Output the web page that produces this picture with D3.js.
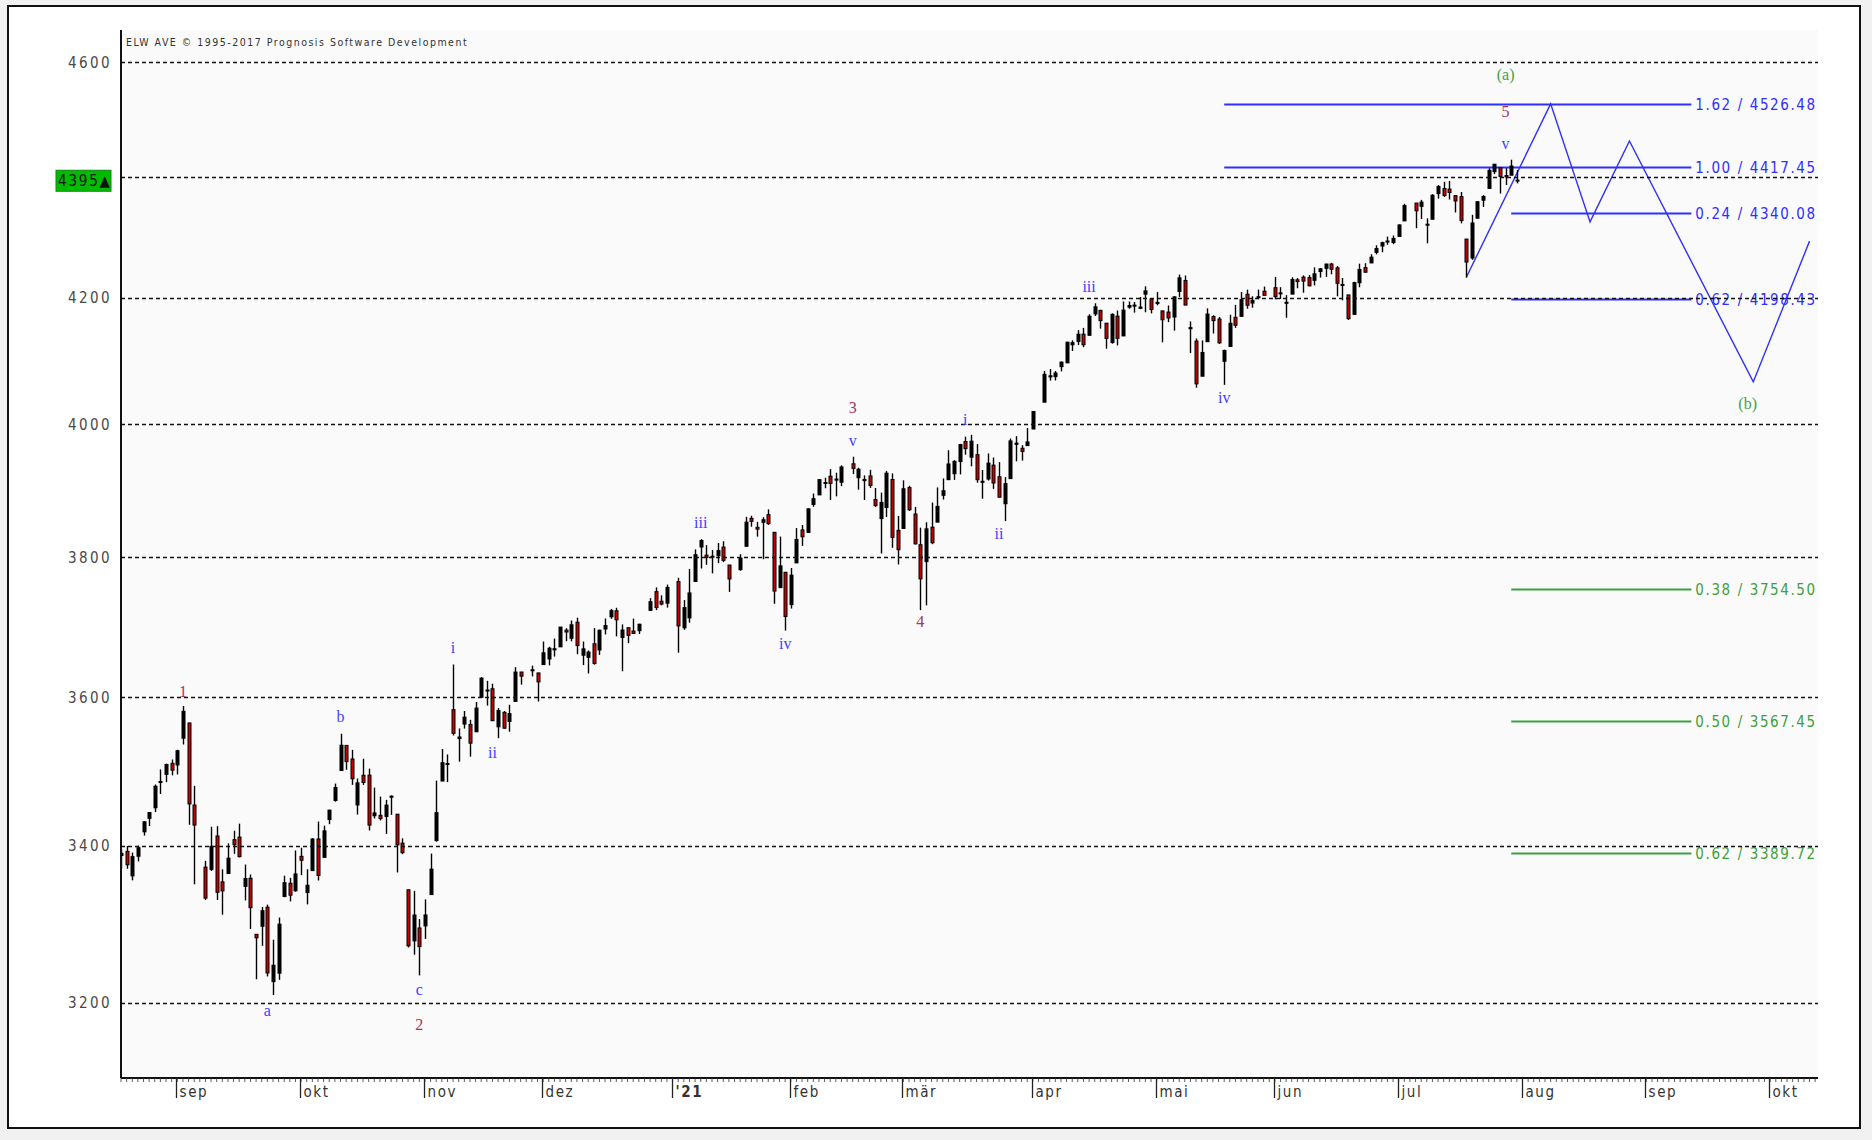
<!DOCTYPE html>
<html>
<head>
<meta charset="utf-8">
<script src="https://cdn.jsdelivr.net/npm/d3@7"></script>
<style>
body { margin: 0; background: #f1f1f1; }
#chart { font-family: "Liberation Sans Narrow", "DejaVu Sans Condensed", "Liberation Sans", sans-serif; }
</style>
</head>
<body>
<svg id="chart" width="1872" height="1140"></svg>
<script>
// daily bars: date, open, high, low, close
const bars = [
  ["2020-08-18",3387.0,3395.1,3370.2,3389.8],["2020-08-19",3392.5,3399.5,3369.7,3374.9],["2020-08-20",3360.5,3390.8,3354.7,3385.5],
  ["2020-08-21",3386.0,3400.0,3379.3,3397.2],["2020-08-24",3418.1,3432.1,3413.1,3431.3],["2020-08-25",3435.9,3444.2,3425.8,3443.6],
  ["2020-08-26",3450.0,3481.1,3444.2,3478.7],["2020-08-27",3485.1,3501.4,3468.4,3484.6],["2020-08-28",3494.7,3509.2,3484.3,3508.0],
  ["2020-08-31",3509.7,3514.8,3493.3,3500.3],
  ["2020-09-01",3507.4,3528.0,3494.6,3526.7],["2020-09-02",3543.8,3588.1,3535.2,3580.8],["2020-09-03",3564.7,3564.9,3427.4,3455.1],
  ["2020-09-04",3453.6,3479.2,3349.6,3427.0],["2020-09-08",3371.9,3380.0,3329.3,3331.8],["2020-09-09",3369.0,3424.8,3366.8,3399.0],
  ["2020-09-10",3412.6,3425.6,3329.3,3339.2],["2020-09-11",3352.7,3369.0,3310.5,3341.0],["2020-09-14",3363.6,3402.9,3363.6,3383.5],
  ["2020-09-15",3407.7,3419.5,3389.2,3401.2],["2020-09-16",3411.2,3428.9,3384.5,3385.5],["2020-09-17",3346.9,3375.2,3328.8,3357.0],
  ["2020-09-18",3357.4,3362.3,3292.4,3319.5],["2020-09-21",3285.6,3285.6,3229.1,3281.1],["2020-09-22",3295.8,3320.3,3271.0,3315.6],
  ["2020-09-23",3320.1,3323.4,3232.6,3236.9],["2020-09-24",3226.1,3278.7,3209.5,3246.6],["2020-09-25",3236.7,3306.9,3228.4,3298.5],
  ["2020-09-28",3333.9,3360.7,3332.9,3351.6],["2020-09-29",3350.9,3357.9,3327.5,3335.5],["2020-09-30",3341.2,3393.6,3340.0,3363.0],
  ["2020-10-01",3385.9,3397.2,3361.4,3380.8],["2020-10-02",3338.9,3369.1,3323.7,3348.4],["2020-10-05",3367.3,3409.6,3367.3,3408.6],
  ["2020-10-06",3408.7,3431.6,3354.5,3361.0],["2020-10-07",3384.6,3426.3,3384.6,3419.4],["2020-10-08",3434.3,3447.3,3428.2,3446.8],
  ["2020-10-09",3459.7,3482.3,3458.1,3477.1],["2020-10-12",3500.0,3549.9,3499.6,3534.2],["2020-10-13",3534.0,3534.0,3500.9,3511.9],
  ["2020-10-14",3515.5,3527.9,3480.6,3488.7],["2020-10-15",3453.7,3489.1,3440.9,3483.3],["2020-10-16",3493.5,3515.8,3480.5,3483.8],
  ["2020-10-19",3493.7,3502.4,3419.9,3426.9],["2020-10-20",3439.4,3476.9,3435.7,3443.1],["2020-10-21",3439.9,3464.9,3433.1,3435.6],
  ["2020-10-22",3438.5,3460.5,3415.3,3453.5],["2020-10-23",3464.9,3466.5,3440.5,3465.4],["2020-10-26",3441.4,3441.4,3364.9,3401.0],
  ["2020-10-27",3403.2,3409.5,3388.7,3390.7],["2020-10-28",3342.5,3342.5,3268.9,3271.0],["2020-10-29",3277.2,3341.1,3259.8,3310.1],
  ["2020-10-30",3293.6,3304.9,3233.9,3270.0],
  ["2020-11-02",3296.2,3330.1,3279.7,3310.2],["2020-11-03",3336.3,3389.5,3336.3,3369.2],["2020-11-04",3406.5,3486.3,3405.2,3443.4],
  ["2020-11-05",3485.7,3529.1,3485.7,3510.5],["2020-11-06",3508.3,3521.6,3484.3,3509.4],["2020-11-09",3583.0,3646.0,3547.5,3550.5],
  ["2020-11-10",3543.3,3557.2,3511.9,3545.5],["2020-11-11",3563.2,3581.2,3557.0,3572.7],["2020-11-12",3562.7,3569.0,3518.6,3537.0],
  ["2020-11-13",3552.6,3593.7,3552.6,3585.2],["2020-11-16",3600.2,3628.5,3600.2,3626.9],["2020-11-17",3610.3,3623.1,3588.7,3609.5],
  ["2020-11-18",3612.1,3619.1,3567.3,3567.8],["2020-11-19",3559.4,3585.2,3543.8,3581.9],["2020-11-20",3579.3,3581.2,3556.9,3557.5],
  ["2020-11-23",3566.8,3589.8,3552.8,3577.6],["2020-11-24",3594.5,3642.3,3594.5,3635.4],["2020-11-25",3635.5,3635.5,3617.8,3629.7],
  ["2020-11-27",3638.6,3644.3,3629.3,3638.4],["2020-11-30",3634.2,3634.2,3594.4,3621.6],
  ["2020-12-01",3645.9,3678.5,3645.9,3662.5],["2020-12-02",3653.8,3671.0,3644.8,3669.0],["2020-12-03",3668.3,3682.7,3657.2,3666.7],
  ["2020-12-04",3670.9,3699.2,3670.9,3699.1],["2020-12-07",3694.7,3697.4,3678.9,3692.0],["2020-12-08",3683.1,3708.5,3678.8,3702.3],
  ["2020-12-09",3706.0,3712.4,3660.5,3672.8],["2020-12-10",3659.1,3678.5,3645.2,3668.1],["2020-12-11",3656.1,3665.9,3633.4,3663.5],
  ["2020-12-14",3675.3,3697.6,3645.8,3647.5],["2020-12-15",3666.4,3695.3,3659.6,3694.6],["2020-12-16",3696.3,3711.3,3688.6,3701.2],
  ["2020-12-17",3713.7,3725.1,3710.9,3722.5],["2020-12-18",3722.4,3726.7,3685.8,3709.4],["2020-12-21",3684.3,3702.9,3636.5,3694.9],
  ["2020-12-22",3698.1,3698.3,3676.2,3687.3],["2020-12-23",3693.4,3711.2,3689.3,3690.0],["2020-12-24",3694.0,3703.8,3689.3,3703.1],
  ["2020-12-28",3723.0,3740.5,3723.0,3735.4],["2020-12-29",3750.0,3756.1,3723.3,3727.0],["2020-12-30",3736.2,3744.6,3730.2,3732.0],
  ["2020-12-31",3733.3,3760.2,3726.9,3756.1],
  ["2021-01-04",3764.6,3770.0,3662.7,3700.7],["2021-01-05",3698.0,3737.8,3695.1,3726.9],["2021-01-06",3712.2,3783.0,3705.3,3748.1],
  ["2021-01-07",3764.7,3811.6,3764.7,3803.8],["2021-01-08",3815.1,3826.7,3783.6,3824.7],["2021-01-11",3803.1,3817.9,3789.0,3799.6],
  ["2021-01-12",3801.6,3810.8,3776.5,3801.2],["2021-01-13",3802.2,3821.0,3791.5,3809.8],["2021-01-14",3815.0,3823.6,3792.9,3795.5],
  ["2021-01-15",3788.7,3788.7,3749.6,3768.3],["2021-01-19",3781.9,3804.5,3780.4,3798.9],["2021-01-20",3816.2,3859.8,3816.2,3851.9],
  ["2021-01-21",3857.5,3861.5,3845.1,3853.1],["2021-01-22",3844.2,3852.3,3830.4,3841.5],["2021-01-25",3851.7,3859.2,3797.2,3855.4],
  ["2021-01-26",3863.0,3870.9,3847.8,3849.6],["2021-01-27",3836.8,3836.8,3732.5,3750.8],["2021-01-28",3755.8,3830.5,3755.8,3787.4],
  ["2021-01-29",3778.1,3778.1,3694.1,3714.2],
  ["2021-02-01",3731.2,3784.3,3725.6,3773.9],["2021-02-02",3791.8,3843.1,3791.8,3826.3],["2021-02-03",3840.3,3847.5,3816.7,3830.2],
  ["2021-02-04",3836.7,3872.4,3836.7,3871.7],["2021-02-05",3878.3,3894.6,3874.9,3886.8],["2021-02-08",3892.6,3915.8,3892.6,3915.6],
  ["2021-02-09",3910.5,3918.4,3902.6,3911.2],["2021-02-10",3920.8,3931.5,3884.9,3909.9],["2021-02-11",3916.4,3926.0,3890.4,3916.4],
  ["2021-02-12",3911.7,3937.2,3905.8,3934.8],["2021-02-16",3939.6,3950.4,3923.9,3932.6],["2021-02-17",3918.5,3933.6,3900.4,3931.3],
  ["2021-02-18",3915.9,3922.0,3885.0,3914.0],["2021-02-19",3921.2,3930.4,3903.1,3906.7],["2021-02-22",3885.6,3902.9,3874.7,3876.5],
  ["2021-02-23",3857.1,3896.0,3805.6,3881.4],["2021-02-24",3873.7,3928.7,3859.6,3925.4],["2021-02-25",3915.8,3925.0,3814.0,3829.3],
  ["2021-02-26",3839.7,3861.1,3789.5,3811.2],
  ["2021-03-01",3842.5,3914.5,3842.5,3901.8],["2021-03-02",3903.6,3906.4,3868.6,3870.3],["2021-03-03",3864.0,3874.5,3818.9,3819.7],
  ["2021-03-04",3818.5,3843.7,3723.3,3768.5],["2021-03-05",3793.6,3851.7,3730.2,3841.9],["2021-03-08",3844.4,3881.1,3819.3,3821.4],
  ["2021-03-09",3851.9,3903.8,3851.9,3875.4],["2021-03-10",3892.0,3917.4,3885.7,3898.8],["2021-03-11",3915.5,3960.3,3915.5,3939.3],
  ["2021-03-12",3924.5,3945.0,3915.2,3943.3],["2021-03-15",3943.0,3970.1,3923.5,3968.9],["2021-03-16",3973.6,3981.0,3953.4,3962.7],
  ["2021-03-17",3949.6,3983.9,3935.7,3974.1],["2021-03-18",3953.5,3969.6,3910.9,3915.5],["2021-03-19",3913.1,3930.1,3886.8,3913.1],
  ["2021-03-22",3916.5,3955.3,3914.2,3940.6],["2021-03-23",3937.6,3949.1,3901.6,3910.5],["2021-03-24",3919.9,3942.1,3888.9,3889.1],
  ["2021-03-25",3879.3,3919.5,3853.5,3909.5],["2021-03-26",3917.1,3978.2,3917.1,3974.5],["2021-03-29",3969.3,3981.8,3943.3,3971.1],
  ["2021-03-30",3963.3,3968.0,3944.4,3958.6],["2021-03-31",3967.3,3994.4,3967.0,3972.9],
  ["2021-04-01",3992.8,4020.6,3992.8,4019.9],["2021-04-05",4034.4,4083.4,4034.4,4077.9],["2021-04-06",4075.6,4086.2,4068.1,4073.9],
  ["2021-04-07",4074.3,4083.1,4068.3,4080.0],["2021-04-08",4090.0,4098.2,4082.5,4097.2],["2021-04-09",4096.1,4129.5,4095.5,4128.8],
  ["2021-04-12",4124.7,4131.8,4114.8,4128.0],["2021-04-13",4130.1,4148.0,4124.4,4141.6],["2021-04-14",4141.6,4151.7,4120.9,4124.7],
  ["2021-04-15",4139.8,4173.5,4139.8,4170.4],["2021-04-16",4174.1,4191.3,4170.8,4185.5],["2021-04-19",4179.8,4180.8,4150.5,4163.3],
  ["2021-04-20",4159.2,4159.2,4118.4,4134.9],["2021-04-21",4128.4,4175.0,4126.4,4173.4],["2021-04-22",4170.5,4179.6,4123.7,4135.0],
  ["2021-04-23",4138.8,4194.2,4138.8,4180.2],["2021-04-26",4185.0,4194.2,4182.4,4187.6],["2021-04-27",4188.3,4193.4,4176.2,4186.7],
  ["2021-04-28",4185.1,4201.5,4181.8,4183.2],["2021-04-29",4206.1,4218.8,4176.8,4211.5],["2021-04-30",4198.1,4198.1,4174.9,4181.2],
  ["2021-05-03",4192.0,4209.4,4188.0,4192.7],["2021-05-04",4179.0,4179.0,4128.6,4164.7],["2021-05-05",4177.1,4187.7,4160.9,4167.6],
  ["2021-05-06",4169.1,4202.7,4147.3,4201.6],["2021-05-07",4210.3,4238.0,4201.6,4232.6],["2021-05-10",4228.3,4236.4,4188.1,4188.4],
  ["2021-05-11",4150.3,4162.0,4111.5,4152.1],["2021-05-12",4130.6,4134.7,4056.9,4063.0],["2021-05-13",4075.0,4131.6,4075.0,4112.5],
  ["2021-05-14",4129.6,4183.1,4129.6,4173.9],["2021-05-17",4169.9,4171.9,4142.7,4163.3],["2021-05-18",4165.9,4169.1,4126.0,4127.8],
  ["2021-05-19",4098.5,4116.9,4061.4,4115.7],["2021-05-20",4122.0,4172.8,4122.0,4159.1],["2021-05-21",4168.6,4188.7,4151.7,4155.9],
  ["2021-05-24",4170.2,4209.5,4170.2,4197.1],["2021-05-25",4205.9,4213.4,4182.5,4188.1],["2021-05-26",4191.6,4202.6,4184.1,4196.0],
  ["2021-05-27",4201.9,4213.4,4197.8,4200.9],["2021-05-28",4210.8,4218.4,4203.6,4204.1],
  ["2021-06-01",4216.5,4234.1,4197.6,4202.0],["2021-06-02",4206.8,4217.4,4198.3,4208.1],["2021-06-03",4191.4,4204.4,4167.9,4192.9],
  ["2021-06-04",4206.1,4233.5,4206.1,4229.9],["2021-06-07",4229.3,4232.3,4215.7,4226.5],["2021-06-08",4233.8,4236.7,4208.4,4227.3],
  ["2021-06-09",4233.0,4237.1,4218.7,4219.6],["2021-06-10",4228.6,4249.7,4220.3,4239.2],["2021-06-11",4242.9,4248.4,4233.0,4247.4],
  ["2021-06-14",4248.3,4255.6,4234.1,4255.2],["2021-06-15",4255.3,4257.2,4238.4,4246.6],["2021-06-16",4248.9,4251.9,4202.5,4223.7],
  ["2021-06-17",4220.4,4232.3,4196.1,4221.9],["2021-06-18",4204.8,4204.8,4164.4,4166.5],["2021-06-21",4173.4,4226.2,4173.4,4224.8],
  ["2021-06-22",4224.6,4255.8,4217.3,4246.4],["2021-06-23",4249.3,4256.6,4241.4,4241.8],["2021-06-24",4257.0,4271.3,4257.0,4266.5],
  ["2021-06-25",4274.5,4286.1,4271.2,4280.7],["2021-06-28",4284.9,4292.1,4274.7,4290.6],["2021-06-29",4293.2,4300.5,4287.0,4291.8],
  ["2021-06-30",4290.7,4302.4,4288.0,4297.5],
  ["2021-07-01",4300.7,4320.7,4300.7,4319.9],["2021-07-02",4326.6,4355.4,4326.6,4352.3],["2021-07-06",4356.5,4356.5,4314.4,4343.5],
  ["2021-07-07",4351.0,4361.9,4329.8,4358.1],["2021-07-08",4321.1,4330.9,4289.4,4320.8],["2021-07-09",4329.4,4371.6,4329.4,4369.6],
  ["2021-07-12",4372.4,4386.7,4364.0,4384.6],["2021-07-13",4381.1,4392.4,4366.9,4369.2],["2021-07-14",4380.1,4393.7,4362.4,4374.3],
  ["2021-07-15",4369.0,4369.0,4340.7,4360.0],["2021-07-16",4367.4,4375.1,4322.5,4327.2],["2021-07-19",4296.4,4296.4,4233.1,4258.5],
  ["2021-07-20",4265.1,4336.8,4262.1,4323.1],["2021-07-21",4331.1,4359.7,4331.1,4358.7],["2021-07-22",4361.3,4369.9,4350.1,4367.5],
  ["2021-07-23",4381.2,4415.2,4381.2,4411.8],["2021-07-26",4409.6,4422.7,4405.5,4422.3],["2021-07-27",4416.4,4416.4,4372.5,4401.5],
  ["2021-07-28",4403.0,4415.5,4387.0,4400.6],["2021-07-29",4403.6,4430.0,4403.6,4419.2],["2021-07-30",4395.1,4412.3,4389.7,4395.3]
]

const monthNames = ["'21", "feb", "mär", "apr", "mai", "jun", "jul", "aug", "sep", "okt", "nov", "dez"]
const gridLevels = [4600, 4400, 4200, 4000, 3800, 3600, 3400, 3200]
const tickLabels = [4600, 4200, 4000, 3800, 3600, 3400, 3200]
const lastPrice = 4395

// projection targets (blue) and retracements (green)
const projRatios = ["1.62", "1.00", "0.24", "0.62"]
const projPrices = [4526.48, 4417.45, 4340.08, 4198.43]
const projFrom = ["2021-05-19", "2021-05-19", "2021-07-29", "2021-07-29"]
const retrRatios = ["0.38", "0.50", "0.62"]
const retrPrices = [3754.50, 3567.45, 3389.72]
const retrFrom = ["2021-07-29", "2021-07-29", "2021-07-29"]
const fibTo = "2021-09-13"

// forecast path
const pathDates = ["2021-07-19", "2021-08-09", "2021-08-18", "2021-08-27", "2021-09-28", "2021-10-12"]
const pathPrices = [4233.1, 4526.48, 4325, 4462, 4066, 4293]

// wave labels
const waveText = ["1", "a", "b", "c", "2", "i", "ii", "iii", "iv", "3", "v", "4", "i", "ii", "iii", "iv", "(a)", "5", "v", "(b)"]
const waveDates = ["2020-09-02", "2020-09-23", "2020-10-12", "2020-10-30", "2020-10-30", "2020-11-09", "2020-11-18", "2021-01-08",
  "2021-01-29", "2021-02-16", "2021-02-16", "2021-03-04", "2021-03-16", "2021-03-24", "2021-04-15", "2021-05-19",
  "2021-07-28", "2021-07-28", "2021-07-28", "2021-09-27"]
const wavePrices = [3609, 3191, 3574, 3216, 3173, 3670, 3525, 3852, 3676, 4027, 3976, 3707, 4008, 3835, 4218, 4042, 4579, 4514, 4458, 4032]
const waveDegree = [1, 0, 0, 0, 1, 0, 0, 0, 0, 1, 0, 1, 0, 0, 0, 0, 2, 1, 0, 2]


const parse = d3.timeParse('%Y-%m-%d')
const base = parse(bars[0][0])
function wd(date) {
    // weekday slot counted from the first bar
    return d3.timeDay.range(base, date).filter(d => d.getDay() % 6 !== 0).length
}

const plotL = 121, plotR = 1818, plotT = 30, plotB = 1078
const x = d3.scaleLinear().domain([0, 301.5]).range([plotL, plotR])
const y = d3.scaleLog().domain([3200, 4600]).range([1002.7, 62.1])

const svg = d3.select('#chart')
const blue = '#2f2fff', green = '#3f9f3f'
const degreeCol = ['#4040ff', '#a3345a', '#46a046']

// frame + plot background
svg.append('rect').attr('x', 8).attr('y', 6).attr('width', 1852).attr('height', 1122)
    .attr('fill', '#fff').attr('stroke', '#111').attr('stroke-width', 2)
svg.append('rect').attr('x', plotL).attr('y', plotT).attr('width', plotR - plotL).attr('height', plotB - plotT)
    .attr('fill', '#fafafa')

svg.append('defs').append('clipPath').attr('id', 'plotclip')
    .append('rect').attr('x', plotL + 1).attr('y', plotT).attr('width', plotR - plotL - 1).attr('height', plotB - plotT)

const plot = svg.append('g').attr('clip-path', 'url(#plotclip)')

// fib lines
function fibLines(ratios, prices, from, col) {
    ratios.forEach((r, i) => {
        let yy = Math.round(y(prices[i])) + 0.5
        plot.append('line')
            .attr('x1', x(wd(parse(from[i])))).attr('x2', x(wd(parse(fibTo))))
            .attr('y1', yy).attr('y2', yy)
            .attr('stroke', col).attr('stroke-width', 1.8)
        svg.append('text')
            .attr('x', x(wd(parse(fibTo))) + 4).attr('y', yy)
            .attr('dy', '0.36em')
            .attr('font-size', 15).attr('letter-spacing', 1.6)
            .attr('fill', col)
            .text(`${r} / ${prices[i].toFixed(2)}`)
    })
}
fibLines(projRatios, projPrices, projFrom, blue)
fibLines(retrRatios, retrPrices, retrFrom, green)

// grid
gridLevels.forEach(v => {
    let yy = Math.round(y(v)) + 0.5
    svg.append('line')
        .attr('x1', plotL).attr('x2', plotR).attr('y1', yy).attr('y2', yy)
        .attr('stroke', '#111').attr('stroke-width', 1.3).attr('stroke-dasharray', '4,3')
})

// forecast path
plot.append('path')
    .attr('d', d3.line()(pathDates.map((d, i) => [x(wd(parse(d))), y(pathPrices[i])])))
    .attr('fill', 'none').attr('stroke', blue).attr('stroke-width', 1.4)

// candles
bars.forEach(b => {
    let cx = Math.round(x(wd(parse(b[0])))) + 0.5
    let up = b[4] >= b[1]
    plot.append('line')
        .attr('x1', cx).attr('x2', cx).attr('y1', y(b[2])).attr('y2', y(b[3]))
        .attr('stroke', '#000').attr('stroke-width', 1.4)
    let y0 = y(Math.max(b[1], b[4])), y1 = y(Math.min(b[1], b[4]))
    plot.append('rect')
        .attr('x', cx - 1.5).attr('y', y0).attr('width', 3).attr('height', Math.max(1, y1 - y0))
        .attr('fill', up ? '#000' : '#c40000')
        .attr('stroke', '#000').attr('stroke-width', 1)
})

// wave labels
waveText.forEach((t, i) => {
    svg.append('text')
        .attr('x', x(wd(parse(waveDates[i])))).attr('y', y(wavePrices[i]))
        .attr('dy', '0.35em').attr('text-anchor', 'middle')
        .attr('font-family', '"Liberation Serif", "DejaVu Serif", serif')
        .attr('font-size', 16)
        .attr('fill', degreeCol[waveDegree[i]])
        .text(t)
})

// axes
svg.append('line').attr('x1', plotL).attr('x2', plotL).attr('y1', plotT).attr('y2', plotB)
    .attr('stroke', '#111').attr('stroke-width', 2)
svg.append('line').attr('x1', plotL).attr('x2', plotR).attr('y1', plotB).attr('y2', plotB)
    .attr('stroke', '#111').attr('stroke-width', 2)

d3.range(0, 302).forEach(i => {
    svg.append('line').attr('x1', x(i)).attr('x2', x(i)).attr('y1', plotB).attr('y2', plotB + 4)
        .attr('stroke', '#333').attr('stroke-width', 0.8)
})

d3.timeMonth.range(new Date(2020, 8, 1), new Date(2021, 9, 2)).forEach(m => {
    let d = m
    while (d.getDay() % 6 === 0) d = d3.timeDay.offset(d, 1)
    let mx = Math.round(x(wd(d))) - 0.5
    svg.append('line').attr('x1', mx).attr('x2', mx).attr('y1', plotB).attr('y2', plotB + 20)
        .attr('stroke', '#222').attr('stroke-width', 1.3)
    svg.append('text')
        .attr('x', mx + 3).attr('y', plotB + 19)
        .attr('font-size', 15).attr('letter-spacing', 1.6)
        .attr('fill', '#333')
        .attr('font-weight', m.getMonth() === 0 ? 'bold' : 'normal')
        .text(monthNames[m.getMonth()])
})

tickLabels.forEach(v => {
    svg.append('text')
        .attr('x', 112).attr('y', y(v)).attr('dy', '0.36em')
        .attr('text-anchor', 'end')
        .attr('font-size', 15).attr('letter-spacing', 2.4)
        .attr('fill', '#4a4a4a')
        .text(v)
})

// last price marker
let ly = y(lastPrice)
svg.append('rect').attr('x', 56).attr('y', ly - 10).attr('width', 55).attr('height', 21)
    .attr('fill', '#00bb00').attr('stroke', '#0a8a0a').attr('stroke-width', 1)
svg.append('text').attr('x', 58).attr('y', ly).attr('dy', '0.36em')
    .attr('font-size', 15).attr('letter-spacing', 1.8).attr('fill', '#111')
    .text(lastPrice + '\u25B2')

svg.append('text').attr('x', 126).attr('y', 46)
    .attr('font-size', 10.5).attr('letter-spacing', 1.5).attr('fill', '#333')
    .text('ELW AVE \u00A9 1995-2017 Prognosis Software Development')
</script>
</body>
</html>
